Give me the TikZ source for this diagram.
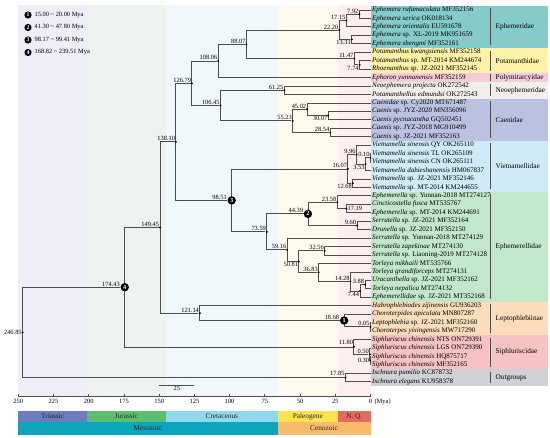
\documentclass[tikz,border=0pt]{standalone}
\usepackage{fontspec}
\setmainfont{Liberation Serif}
\definecolor{brc}{HTML}{4D4D4D}
\definecolor{bgT}{HTML}{EEEEF8}
\definecolor{bgJ}{HTML}{EEF3EF}
\definecolor{bgK}{HTML}{F0F8FC}
\definecolor{bgP}{HTML}{FEFBEE}
\definecolor{bgN}{HTML}{FDEFEF}
\definecolor{cEph}{HTML}{84CBC9}
\definecolor{cPot}{HTML}{FFF1A6}
\definecolor{cPol}{HTML}{F9CADB}
\definecolor{cNeo}{HTML}{F2EEE8}
\definecolor{cCae}{HTML}{BBC2E1}
\definecolor{cVie}{HTML}{CFEBF8}
\definecolor{cEpl}{HTML}{C3E7CB}
\definecolor{cLep}{HTML}{FCDDBB}
\definecolor{cSip}{HTML}{F6C2C2}
\definecolor{cOut}{HTML}{CFD1D6}
\definecolor{pT}{HTML}{6A7DC0}
\definecolor{pJ}{HTML}{5CBF6F}
\definecolor{pK}{HTML}{8FD8EE}
\definecolor{pP}{HTML}{FCE34E}
\definecolor{pN}{HTML}{E8695D}
\definecolor{eM}{HTML}{0DA5B9}
\definecolor{eC}{HTML}{F7BB6B}
\newcommand\Xa[1]{370.5-1.409*(#1)}
\newcommand\TYa[1]{10+(#1-1)*8.45}
\newcommand\tipn[2]{\node[tipl] (t#1) at (370.5,{\TYa{#1}}) {#2};}
\newcommand\inode[7]{%
  \coordinate (#1-c) at ({\Xa{#2}},#3);
  \draw[br] (#4) -| (#1-c) |- (#5);
  \node[dotn] (#1) at (#1-c) {};
  \node[agel,anchor=#6] (#1-l) at ([#7]#1-c) {#2};
}
\newcommand\mnode[6]{%
  \coordinate (#1-c) at ({\Xa{#2}},#3);
  \draw[br] (#4) -| (#1-c) |- (#5);
  \node[mk] (#1) at (#1-c) {#6};
  \node[agel,anchor=south east] (#1-l) at ([yshift=0.3pt]#1.west) {#2};
}
\newcommand\famblk[6]{%
  \fill[#4] (370.5,{\TYa{#2}-4.225}) rectangle (548,{\TYa{#3}+4.225});
  \draw[fbar] (490,{\TYa{#2}-#6}) -- (490,{\TYa{#3}+#6});
  \node[faml] (f#1) at (495.5,{(\TYa{#2}+\TYa{#3})/2}) {#5};
}
\tikzset{lse/.style={xshift=-0.3pt,yshift=0.3pt},lne/.style={xshift=-0.3pt,yshift=-0.3pt}}
\begin{document}
\begin{tikzpicture}[x=1pt,y=-1pt,
  br/.style={draw=brc,line width=0.85pt},
  fbar/.style={draw=brc,line width=0.85pt},
  tipl/.style={anchor=west,inner sep=1.5pt,text height=4.6pt,text depth=1.4pt,font=\fontsize{7}{7}\selectfont},
  agel/.style={inner sep=0.4pt,font=\fontsize{6.4}{6.4}\selectfont},
  faml/.style={anchor=west,inner sep=0pt,font=\fontsize{7.3}{8}\selectfont},
  dotn/.style={circle,fill=black,inner sep=0pt,minimum size=2.3pt},
  mk/.style={circle,fill=black,text=white,inner sep=0pt,minimum size=8.4pt,font=\fontsize{6.3}{6}\selectfont\bfseries},
  mkl/.style={circle,fill=black,text=white,inner sep=0pt,minimum size=7.2pt,font=\fontsize{5.8}{6}\selectfont\bfseries},
  legl/.style={anchor=west,inner sep=0pt,font=\fontsize{6.4}{7}\selectfont},
  tickl/.style={inner sep=0pt,anchor=north,font=\fontsize{6.5}{7}\selectfont},
  axisl/.style={draw=brc,line width=0.7pt},
  perl/.style={inner sep=0pt,font=\fontsize{7.3}{8}\selectfont,text=black!85}
]
\useasboundingbox (0,0) rectangle (550,438);
% background period bands
\fill[bgT] ({\Xa{250}},5) rectangle ({\Xa{201.3}},396);
\fill[bgJ] ({\Xa{201.3}},5) rectangle ({\Xa{145}},396);
\fill[bgK] ({\Xa{145}},5) rectangle ({\Xa{66}},396);
\fill[bgP] ({\Xa{66}},5) rectangle ({\Xa{23}},396);
\fill[bgN] ({\Xa{23}},5) rectangle ({\Xa{0}},396);
% family boxes
\famblk{Eph}{1}{5}{cEph}{Ephemeridae}{1.7}
\famblk{Pot}{6}{8}{cPot}{Potamanthidae}{1.7}
\famblk{Pol}{9}{9}{cPol}{Polymitarcyidae}{3.6}
\famblk{Neo}{10}{11}{cNeo}{Neoephemeridae}{1.7}
\famblk{Cae}{12}{16}{cCae}{Caenidae}{1.7}
\famblk{Vie}{17}{22}{cVie}{Vietnamellidae}{1.7}
\famblk{Epl}{23}{35}{cEpl}{Ephemerellidae}{1.7}
\famblk{Lep}{36}{39}{cLep}{Leptophlebiinae}{1.7}
\famblk{Sip}{40}{43}{cSip}{Siphluriscidae}{1.7}
\famblk{Out}{44}{45}{cOut}{Outgroups}{1.7}
% tips
\tipn{1}{\textit{Ephemera rufamaculata} MF352156}
\tipn{2}{\textit{Ephemera serica} OK018134}
\tipn{3}{\textit{Ephemera orientalis} EU591678}
\tipn{4}{\textit{Ephemera} sp. XL-2019 MK951659}
\tipn{5}{\textit{Ephemera shengmi} MF352161}
\tipn{6}{\textit{Potamanthus kwangsiensis} MF352158}
\tipn{7}{\textit{Potamanthus} sp. MT-2014 KM244674}
\tipn{8}{\textit{Rhoenanthus} sp. JZ-2021 MF352145}
\tipn{9}{\textit{Ephoron yunnanensis} MF352159}
\tipn{10}{\textit{Neoephemera projecta} OK272542}
\tipn{11}{\textit{Potamanthellus edmundsi} OK272543}
\tipn{12}{\textit{Caenidae} sp. Cy2020 MT671487}
\tipn{13}{\textit{Caenis} sp. JYZ-2020 MN356096}
\tipn{14}{\textit{Caenis pycnacantha} GQ502451}
\tipn{15}{\textit{Caenis} sp. JYZ-2018 MG910499}
\tipn{16}{\textit{Caenis} sp. JZ-2021 MF352163}
\tipn{17}{\textit{Vietnamella sinensis} QY OK265110}
\tipn{18}{\textit{Vietnamella sinensis} TL OK265109}
\tipn{19}{\textit{Vietnamella sinensis} CN OK265111}
\tipn{20}{\textit{Vietnamella dabieshanensis} HM067837}
\tipn{21}{\textit{Vietnamella} sp. JZ-2021 MF352146}
\tipn{22}{\textit{Vietnamella} sp. MT-2014 KM244655}
\tipn{23}{\textit{Ephemerella} sp. Yunnan-2018 MT274127}
\tipn{24}{\textit{Cincticostella fusca} MT535767}
\tipn{25}{\textit{Ephemerella} sp. MT-2014 KM244691}
\tipn{26}{\textit{Serratella} sp. JZ-2021 MF352164}
\tipn{27}{\textit{Drunella} sp. JZ-2021 MF352150}
\tipn{28}{\textit{Serratella} sp. Yunnan-2018 MT274129}
\tipn{29}{\textit{Serratella zapekinae} MT274130}
\tipn{30}{\textit{Serratella} sp. Liaoning-2019 MT274128}
\tipn{31}{\textit{Torleya mikhaili} MT535766}
\tipn{32}{\textit{Torleya grandiforceps} MT274131}
\tipn{33}{\textit{Uracanthella} sp. JZ-2021 MF352162}
\tipn{34}{\textit{Torleya nepalica} MT274132}
\tipn{35}{\textit{Ephemerellidae} sp. JZ-2021 MT352168}
\tipn{36}{\textit{Habrophlebiodes zijinensis} GU936203}
\tipn{37}{\textit{Choroterpides apiculata} MN807287}
\tipn{38}{\textit{Leptophlebia} sp. JZ-2021 MF352160}
\tipn{39}{\textit{Choroterpes yixingensis} MW717290}
\tipn{40}{\textit{Siphluriscus chinensis} NTS ON729391}
\tipn{41}{\textit{Siphluriscus chinensis} LGS ON729390}
\tipn{42}{\textit{Siphluriscus chinensis} HQ875717}
\tipn{43}{\textit{Siphluriscus chinensis} MF352165}
\tipn{44}{\textit{Ischnura pumilio} KC878732}
\tipn{45}{\textit{Ischnura elegans} KU958378}
% tree
\inode{n792}{7.92}{14.225}{t1}{t2}{south east}{lse}
\inode{n1715}{17.15}{20.5625}{n792}{t3}{south east}{lse}
\inode{n1331}{13.31}{39.575}{t4}{t5}{north east}{lne}
\inode{n2220}{22.20}{30.07}{n1715}{n1331}{south east}{lse}
\inode{n774}{7.74}{64.925}{t7}{t8}{north east}{lne}
\inode{n1147}{11.47}{58.5875}{t6}{n774}{south east}{lse}
\inode{n8807}{88.07}{44.33}{n2220}{n1147}{south east}{lse}
\inode{n10806}{108.06}{60.965}{n8807}{t9}{south east}{lse}
\inode{n6125}{61.25}{90.275}{t10}{t11}{south east}{lse}
\inode{n3007}{30.07}{115.625}{t13}{t14}{north east}{lne}
\inode{n4502}{45.02}{109.2875}{t12}{n3007}{south east}{lse}
\inode{n2854}{28.54}{132.525}{t15}{t16}{south east}{lse}
\inode{n5523}{55.23}{120.906}{n4502}{n2854}{south east}{lse}
\inode{n10645}{106.45}{105.59}{n6125}{n5523}{south east}{lse}
\inode{n12679}{126.79}{83.28}{n10806}{n10645}{south east}{lse}
\inode{n010}{0.10}{157.875}{t18}{t19}{south east}{lse}
\inode{n353}{3.53}{164.2125}{n010}{t20}{north east}{lne}
\inode{n996}{9.96}{154.706}{t17}{n353}{south east}{lse}
\inode{n1268}{12.68}{183.225}{t21}{t22}{north east}{lne}
\inode{n1607}{16.07}{168.966}{n996}{n1268}{south east}{lse}
\inode{n1719}{17.19}{208.575}{t24}{t25}{west}{xshift=0.8pt}
\inode{n2358}{23.58}{202.2375}{t23}{n1719}{south east}{lse}
\inode{n960}{9.60}{225.475}{t26}{t27}{south east}{lse}
\mnode{n4439}{44.39}{213.856}{n2358}{n960}{2}
\inode{n3256}{32.56}{250.825}{t29}{t30}{south east}{lse}
\inode{n388}{3.88}{284.625}{t33}{t34}{south east}{lse}
\inode{n744}{7.44}{290.9625}{n388}{t35}{north east}{lne}
\inode{n1428}{14.28}{281.456}{t32}{n744}{south east}{lse}
\inode{n3683}{36.83}{272.478}{t31}{n1428}{south east}{lse}
\inode{n5081}{50.81}{261.65}{n3256}{n3683}{north east}{lne}
\inode{n5916}{59.16}{249.9}{t28}{n5081}{south east}{lse}
\inode{n7359}{73.59}{231.878}{n4439}{n5916}{south east}{lse}
\mnode{n9851}{98.51}{200.42}{n1607}{n7359}{3}
\inode{n13810}{138.10}{141.85}{n12679}{n9851}{south east}{lse}
\inode{n005}{0.05}{326.875}{t38}{t39}{south east}{lse}
\mnode{n1868}{18.68}{320.5375}{t37}{n005}{1}
\inode{n12114}{121.14}{313.14}{t36}{n1868}{south east}{lse}
\inode{n14945}{149.45}{227.5}{n13810}{n12114}{south east}{lse}
\inode{n030}{0.30}{360.675}{t42}{t43}{east}{xshift=-0.5pt,yshift=0.5pt}
\inode{n050}{0.50}{354.3375}{t41}{n030}{south east}{lse}
\inode{n1180}{11.80}{346.94}{t40}{n050}{south east}{xshift=-0.3pt,yshift=1.5pt}
\mnode{n17443}{174.43}{287.22}{n14945}{n1180}{4}
\inode{n1785}{17.85}{377.575}{t44}{t45}{south east}{xshift=-0.3pt,yshift=1.5pt}
\inode{n24685}{246.85}{332.4}{n17443}{n1785}{east}{xshift=-0.4pt}
% legend
\node[mkl] (lg1) at (28,15) {1};
\node[legl] (lt1) at (34.5,15) {15.00 \textasciitilde{} 20.00 Mya};
\node[mkl] (lg2) at (28,27.5) {2};
\node[legl] (lt2) at (34.5,27.5) {41.30 \textasciitilde{} 47.80 Mya};
\node[mkl] (lg3) at (28,40) {3};
\node[legl] (lt3) at (34.5,40) {98.17 \textasciitilde{} 99.41 Mya};
\node[mkl] (lg4) at (28,52.5) {4};
\node[legl] (lt4) at (34.5,52.5) {168.82 \textasciitilde{} 239.51 Mya};
% scale bar
\coordinate (sb1) at ({\Xa{150}},385);
\coordinate (sb2) at ({\Xa{125}},385);
\draw[axisl] (sb1) -- (sb2) node[midway,below=1.2pt,inner sep=0pt,font=\fontsize{6.3}{7}\selectfont] (sbl) {25};
% axis
\coordinate (ax0) at ({\Xa{250}},396);
\coordinate (ax1) at ({\Xa{0}},396);
\draw[axisl] (ax0) -- (ax1);
\foreach \a in {25,50,...,250} {
  \draw[axisl] ({\Xa{\a}},396) -- ({\Xa{\a}},394);
  \node[tickl] (tk\a) at ({\Xa{\a}},399) {\a};
}
\draw[axisl] ({\Xa{0}},396) -- ({\Xa{0}},394);
\node[tickl] (tk0) at ({\Xa{0}},399) {0};
\node[tickl,anchor=north west] (tkm) at ([xshift=2pt]tk0.north east) {(Mya)};
% period bars
\fill[pT] ({\Xa{250}},410.7) rectangle ({\Xa{201.3}},422);
\fill[pJ] ({\Xa{201.3}},410.7) rectangle ({\Xa{145}},422);
\fill[pK] ({\Xa{145}},410.7) rectangle ({\Xa{66}},422);
\fill[pP] ({\Xa{66}},410.7) rectangle ({\Xa{23}},422);
\fill[pN] ({\Xa{23}},410.7) rectangle ({\Xa{0}},422);
\fill[eM] ({\Xa{250}},422) rectangle ({\Xa{66}},435);
\fill[eC] ({\Xa{66}},422) rectangle ({\Xa{0}},435);
\node[perl] (pr1) at ({\Xa{225.65}},416.4) {Triassic};
\node[perl] (pr2) at ({\Xa{173.15}},416.4) {Jurassic};
\node[perl] (pr3) at ({\Xa{105.5}},416.4) {Cretaceous};
\node[perl] (pr4) at ({\Xa{44.5}},416.4) {Paleogene};
\node[perl] (pr5) at ({\Xa{11.5}},416.4) {N. Q.};
\node[perl] (er1) at ({\Xa{158}},428.5) {Mesozoic};
\node[perl] (er2) at ({\Xa{33}},428.5) {Cenozoic};
\end{tikzpicture}
\end{document}
